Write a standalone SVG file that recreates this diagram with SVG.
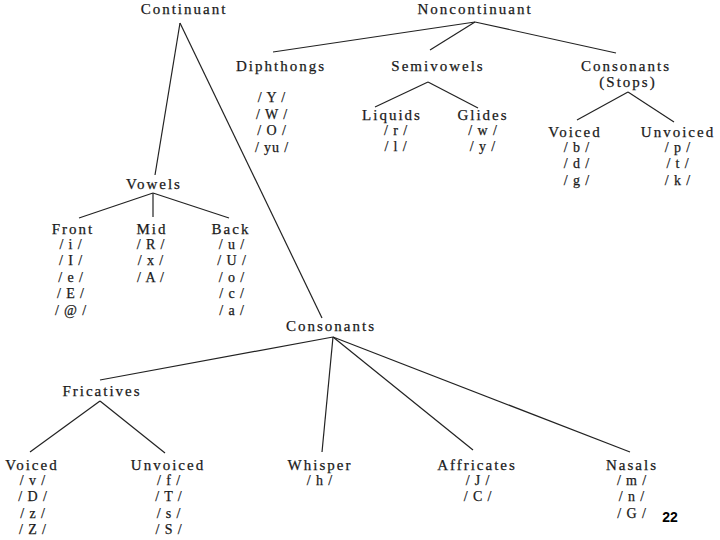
<svg xmlns="http://www.w3.org/2000/svg" width="720" height="540" viewBox="0 0 720 540">
<style>
text{font-family:"Liberation Serif","Times New Roman",serif;fill:#1a1a1a;stroke:#1a1a1a;stroke-width:0.25;text-anchor:middle}
.h{font-size:15px;letter-spacing:2px}
.p{font-size:14px;letter-spacing:0.9px}
.e line{stroke:#222;stroke-width:1.2}
.num{font-family:"Liberation Sans",Arial,sans-serif;font-weight:900;font-size:14px;fill:#000;stroke:none;letter-spacing:0}
</style>
<rect width="720" height="540" fill="#fff"/>
<g class="e" id="connectors">
<line x1="180" y1="23" x2="155" y2="175"/>
<line x1="180" y1="23" x2="322" y2="318"/>
<line x1="475" y1="22" x2="273" y2="52"/>
<line x1="475" y1="22" x2="430" y2="50"/>
<line x1="475" y1="22" x2="616" y2="53"/>
<line x1="428" y1="82" x2="375" y2="107"/>
<line x1="428" y1="82" x2="478" y2="108"/>
<line x1="628" y1="92" x2="577" y2="120"/>
<line x1="628" y1="92" x2="674" y2="122"/>
<line x1="153" y1="193" x2="79" y2="218"/>
<line x1="153" y1="193" x2="153" y2="217"/>
<line x1="153" y1="193" x2="229" y2="218"/>
<line x1="333" y1="337" x2="100" y2="380"/>
<line x1="333" y1="337" x2="322" y2="452"/>
<line x1="333" y1="337" x2="473" y2="450"/>
<line x1="333" y1="337" x2="630" y2="452"/>
<line x1="100" y1="401" x2="30" y2="452"/>
<line x1="100" y1="401" x2="165" y2="453"/>
</g>
<g id="continuant"><text class="h" x="184" y="14">Continuant</text></g>
<g id="noncontinuant"><text class="h" x="475" y="14">Noncontinuant</text></g>
<g id="diphthongs"><text class="h" x="281" y="71">Diphthongs</text>
<text class="p" x="272" y="102">/ Y /</text><text class="p" x="272" y="119">/ W /</text><text class="p" x="272" y="135">/ O /</text><text class="p" x="272" y="152">/ yu /</text></g>
<g id="semivowels"><text class="h" x="438" y="71">Semivowels</text></g>
<g id="liquids"><text class="h" x="392" y="120">Liquids</text>
<text class="p" x="396" y="135">/ r /</text><text class="p" x="396" y="151">/ l /</text></g>
<g id="glides"><text class="h" x="483" y="120">Glides</text>
<text class="p" x="483" y="135">/ w /</text><text class="p" x="483" y="151">/ y /</text></g>
<g id="stops"><text class="h" x="626" y="71">Consonants</text><text class="h" x="628" y="87">(Stops)</text></g>
<g id="stops-voiced"><text class="h" x="575" y="137">Voiced</text>
<text class="p" x="577" y="152">/ b /</text><text class="p" x="577" y="168">/ d /</text><text class="p" x="577" y="185">/ g /</text></g>
<g id="stops-unvoiced"><text class="h" x="678" y="137">Unvoiced</text>
<text class="p" x="678" y="152">/ p /</text><text class="p" x="678" y="168">/ t /</text><text class="p" x="678" y="185">/ k /</text></g>
<g id="vowels"><text class="h" x="154" y="189">Vowels</text></g>
<g id="front"><text class="h" x="73" y="234">Front</text>
<text class="p" x="71" y="249">/ i /</text><text class="p" x="71" y="265">/ I /</text><text class="p" x="71" y="282">/ e /</text><text class="p" x="71" y="298">/ E /</text><text class="p" x="71" y="315">/ @ /</text></g>
<g id="mid"><text class="h" x="152" y="234">Mid</text>
<text class="p" x="151" y="249">/ R /</text><text class="p" x="151" y="265">/ x /</text><text class="p" x="151" y="282">/ A /</text></g>
<g id="back"><text class="h" x="231" y="234">Back</text>
<text class="p" x="232" y="249">/ u /</text><text class="p" x="232" y="265">/ U /</text><text class="p" x="232" y="282">/ o /</text><text class="p" x="232" y="298">/ c /</text><text class="p" x="232" y="315">/ a /</text></g>
<g id="consonants"><text class="h" x="331" y="331">Consonants</text></g>
<g id="fricatives"><text class="h" x="102" y="396">Fricatives</text></g>
<g id="fric-voiced"><text class="h" x="32" y="470">Voiced</text>
<text class="p" x="33" y="485">/ v /</text><text class="p" x="33" y="501">/ D /</text><text class="p" x="33" y="518">/ z /</text><text class="p" x="33" y="534">/ Z /</text></g>
<g id="fric-unvoiced"><text class="h" x="168" y="470">Unvoiced</text>
<text class="p" x="169" y="485">/ f /</text><text class="p" x="169" y="501">/ T /</text><text class="p" x="169" y="518">/ s /</text><text class="p" x="169" y="534">/ S /</text></g>
<g id="whisper"><text class="h" x="320" y="470">Whisper</text>
<text class="p" x="320" y="485">/ h /</text></g>
<g id="affricates"><text class="h" x="477" y="470">Affricates</text>
<text class="p" x="478" y="485">/ J /</text><text class="p" x="478" y="501">/ C /</text></g>
<g id="nasals"><text class="h" x="632" y="470">Nasals</text>
<text class="p" x="632" y="485">/ m /</text><text class="p" x="632" y="501">/ n /</text><text class="p" x="632" y="518">/ G /</text></g>
<text class="num" x="670" y="522">22</text>
</svg>
